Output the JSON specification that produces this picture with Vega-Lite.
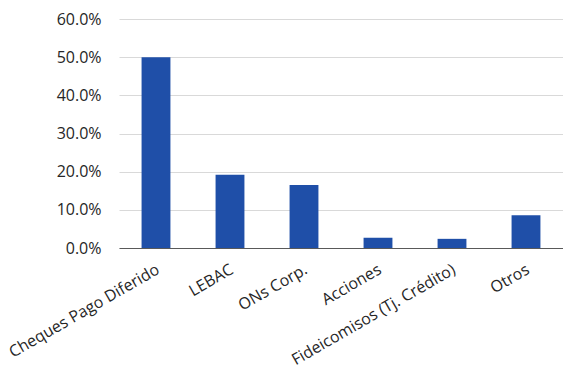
{
  "$schema": "https://vega.github.io/schema/vega-lite/v6.json",
  "autosize": {"type": "none"},
  "width": 444,
  "height": 229,
  "padding": {"left": 119, "top": 19, "right": 0, "bottom": 123},
  "background": "white",
  "data": {
    "values": [
      {"categoria": "Cheques Pago Diferido", "valor": 0.500},
      {"categoria": "LEBAC", "valor": 0.192},
      {"categoria": "ONs Corp.", "valor": 0.165},
      {"categoria": "Acciones", "valor": 0.027},
      {"categoria": "Fideicomisos (Tj. Crédito)", "valor": 0.024},
      {"categoria": "Otros", "valor": 0.086}
    ]
  },
  "config": {
    "view": {"stroke": null},
    "font": "Open Sans"
  },
  "mark": {"type": "bar", "color": "#1f4fa8"},
  "encoding": {
    "x": {
      "field": "categoria",
      "type": "nominal",
      "sort": null,
      "title": null,
      "scale": {"paddingInner": 0.61, "paddingOuter": 0.305},
      "axis": {
        "labelAngle": -30,
        "labelFontSize": 16,
        "labelColor": "#262626",
        "labelFont": "Open Sans",
        "labelPadding": 13,
        "labelOffset": -2,
        "ticks": false,
        "domainColor": "#595959",
        "domainWidth": 1,
        "labelLimit": 400
      }
    },
    "y": {
      "field": "valor",
      "type": "quantitative",
      "title": null,
      "scale": {"domain": [0, 0.6], "nice": false},
      "axis": {
        "values": [0, 0.1, 0.2, 0.3, 0.4, 0.5, 0.6],
        "format": ".1%",
        "labelFontSize": 16,
        "labelColor": "#262626",
        "labelFont": "Open Sans",
        "labelPadding": 18,
        "ticks": false,
        "domain": false,
        "gridColor": "#d9d9d9",
        "gridWidth": 1
      }
    }
  }
}
